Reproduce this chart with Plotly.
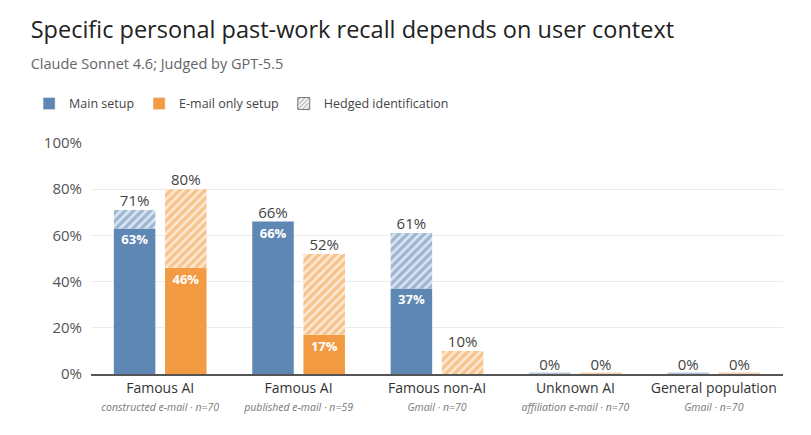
import plotly.graph_objects as go

categories = ["Famous AI", "Famous AI", "Famous non-AI", "Unknown AI", "General population"]
subtitles = ["constructed e-mail · n=70", "published e-mail · n=59", "Gmail · n=70",
             "affiliation e-mail · n=70", "Gmail · n=70"]
main_specific = [63, 66, 37, 0, 0]
main_total = [71, 66, 61, 0, 0]
email_specific = [46, 17, 0, 0, 0]
email_total = [80, 52, 10, 0, 0]
y_ticks = [0, 20, 40, 60, 80, 100]

BLUE = "#5f87b3"
ORANGE = "#f39b43"
BLUE_LIGHT = "#dbe5f0"
ORANGE_LIGHT = "#fde8d2"
OFF = 0.185
W = 0.30

idx = list(range(len(categories)))
fig = go.Figure()

for shift, spec, tot, col, light in [(-OFF, main_specific, main_total, BLUE, BLUE_LIGHT),
                                     (OFF, email_specific, email_total, ORANGE, ORANGE_LIGHT)]:
    xs = [i + shift for i in idx]
    # zero-valued groups show as a thin stub
    stub = [0.6 if t == 0 else 0 for t in tot]
    fig.add_trace(go.Bar(x=xs, y=stub, width=W, marker_color=col, opacity=0.6,
                         showlegend=False, hoverinfo="skip"))
    fig.add_trace(go.Bar(x=xs, y=spec, width=W, marker_color=col, marker_line_width=0,
                         showlegend=False))
    fig.add_trace(go.Bar(x=xs, y=[t - s for t, s in zip(tot, spec)], base=spec, width=W,
                         marker=dict(color=light, line_width=0,
                                     pattern=dict(shape="/", fgcolor=col, bgcolor=light,
                                                  size=6, solidity=0.55)),
                         showlegend=False))
    fig.add_trace(go.Scatter(x=xs, y=tot, mode="text", text=[f"{t}%" for t in tot],
                             textposition="top center",
                             textfont=dict(size=15, color="#444"), showlegend=False))
    ins = [(x, s) for x, s in zip(xs, spec) if s > 0]
    fig.add_trace(go.Scatter(x=[p[0] for p in ins], y=[p[1] - 5.5 for p in ins], mode="text",
                             text=[f"<b>{p[1]}%</b>" for p in ins],
                             textfont=dict(size=13, color="white"), showlegend=False))

# legend entries
fig.add_trace(go.Bar(x=[None], y=[None], name="Main setup", marker_color=BLUE))
fig.add_trace(go.Bar(x=[None], y=[None], name="E-mail only setup", marker_color=ORANGE))
fig.add_trace(go.Bar(x=[None], y=[None], name="Hedged identification",
                     marker=dict(color="white", line=dict(color="#777", width=1),
                                 pattern=dict(shape="/", fgcolor="#666", bgcolor="white",
                                              size=4, solidity=0.45))))

ticktext = [f"{c}<br><i><span style='font-size:10.5px;color:#777'>{s}</span></i>"
            for c, s in zip(categories, subtitles)]

fig.update_layout(
    width=811, height=435,
    barmode="overlay",
    font=dict(family="Open Sans", color="#333"),
    paper_bgcolor="white", plot_bgcolor="white",
    margin=dict(l=83, r=36, t=135, b=69),
    title=dict(text="Specific personal past-work recall depends on user context"
                    "<br><span style='font-size:14.5px;color:#666'>Claude Sonnet 4.6; Judged by GPT-5.5</span>",
               x=0.028, xanchor="left", xref="container", y=0.93, yanchor="top",
               font=dict(size=23.5, color="#222")),
    legend=dict(orientation="h", x=0.026, xref="container", y=0.745, yref="container",
                xanchor="left", yanchor="bottom", font=dict(size=12.5, color="#444"),
                traceorder="normal"),
    xaxis=dict(range=[-0.5, 4.5], tickvals=idx, ticktext=ticktext, showgrid=False,
               tickfont=dict(size=14, color="#333"), showline=True, linecolor="#555",
               linewidth=2, ticks="", automargin=False),
    yaxis=dict(range=[0, 100], tickvals=y_ticks, ticktext=[f"{v}%" for v in y_ticks],
               gridcolor="#ececec", tickfont=dict(size=15, color="#555"),
               zeroline=False, ticklabelstandoff=8, automargin=False),
)
fig.add_shape(type="line", xref="paper", yref="paper", x0=1.055, x1=1.055, y0=-0.4, y1=1.7,
              line=dict(color="#ddd", width=1))
fig.write_html("out.html")
